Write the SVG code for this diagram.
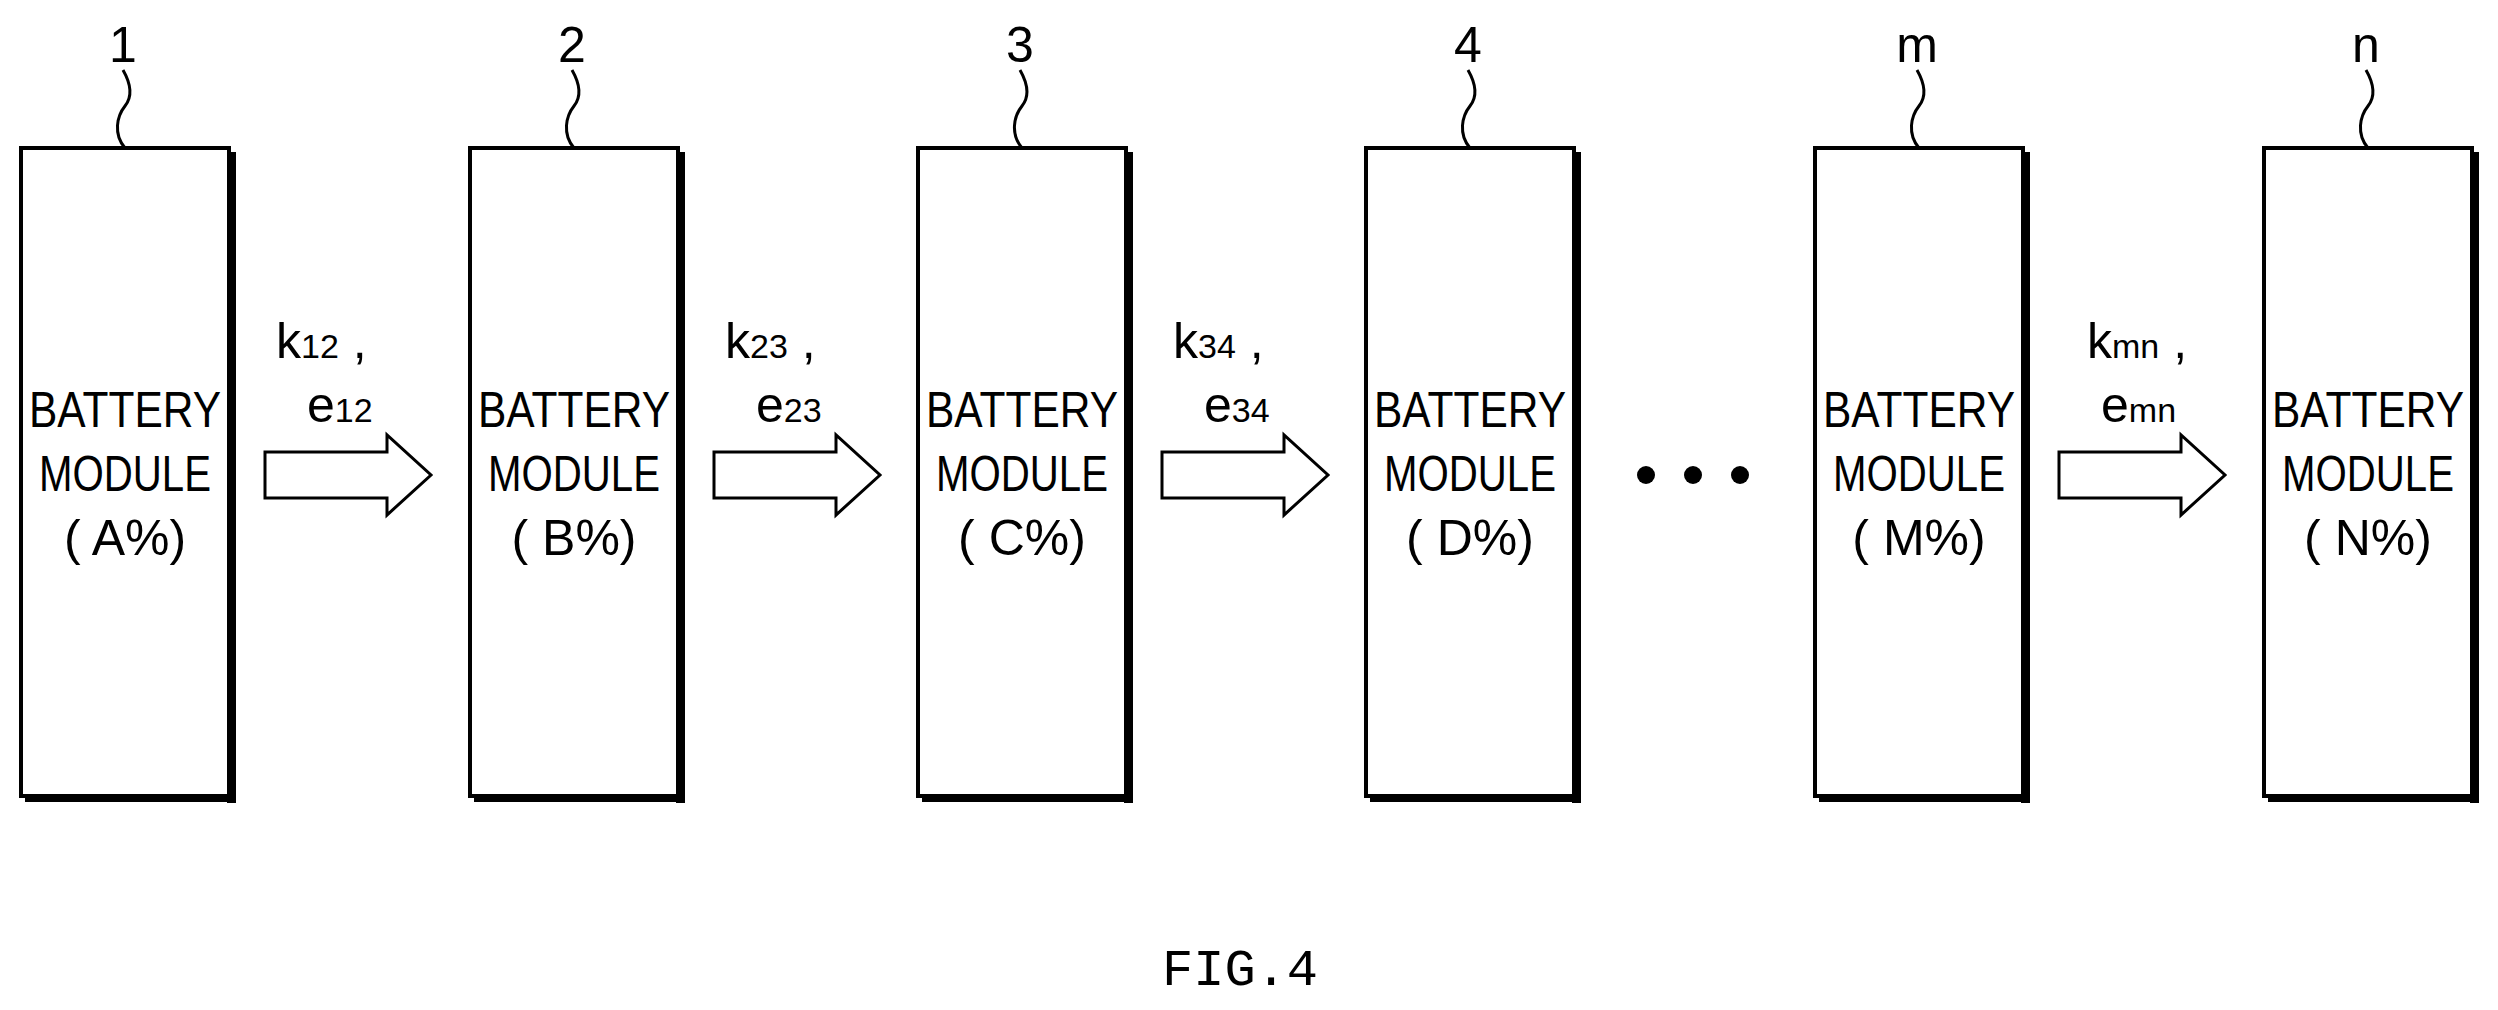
<svg xmlns="http://www.w3.org/2000/svg" width="2498" height="1010" viewBox="0 0 2498 1010">
<style>
.box{fill:#fff;stroke:#000;stroke-width:4}
.sh{fill:#000}
.t{font-family:"Liberation Sans",Arial,sans-serif;font-size:50px;text-anchor:middle;fill:#000}
.lead{fill:none;stroke:#000;stroke-width:3}
.arr{fill:#fff;stroke:#000;stroke-width:3}
.sub{font-size:34px}
</style>
<rect width="2498" height="1010" fill="#fff"/>
<defs>
<g id="mod">
<rect class="sh" x="206" y="4" width="9" height="651"/>
<rect class="sh" x="4" y="645" width="211" height="9"/>
<rect class="box" x="0" y="0" width="208" height="648"/>
<path class="lead" d="M104 0 C92 -14 96 -32 104 -42 S110 -64 102 -78"/>
</g>
<path id="ar" class="arr" d="M0 -23 H122 V-40 L166 0 L122 40 V23 H0 Z"/>
</defs>
<g id="node1"><use href="#mod" x="21" y="148"/><text class="t" x="123" y="62">1</text><text class="t" x="125" y="427" textLength="192" lengthAdjust="spacingAndGlyphs">BATTERY</text><text class="t" x="125" y="491" textLength="172" lengthAdjust="spacingAndGlyphs">MODULE</text><text class="t" x="125" y="555">( A%)</text></g>
<g id="node2"><use href="#mod" x="470" y="148"/><text class="t" x="572" y="62">2</text><text class="t" x="574" y="427" textLength="192" lengthAdjust="spacingAndGlyphs">BATTERY</text><text class="t" x="574" y="491" textLength="172" lengthAdjust="spacingAndGlyphs">MODULE</text><text class="t" x="574" y="555">( B%)</text></g>
<g id="node3"><use href="#mod" x="918" y="148"/><text class="t" x="1020" y="62">3</text><text class="t" x="1022" y="427" textLength="192" lengthAdjust="spacingAndGlyphs">BATTERY</text><text class="t" x="1022" y="491" textLength="172" lengthAdjust="spacingAndGlyphs">MODULE</text><text class="t" x="1022" y="555">( C%)</text></g>
<g id="node4"><use href="#mod" x="1366" y="148"/><text class="t" x="1468" y="62">4</text><text class="t" x="1470" y="427" textLength="192" lengthAdjust="spacingAndGlyphs">BATTERY</text><text class="t" x="1470" y="491" textLength="172" lengthAdjust="spacingAndGlyphs">MODULE</text><text class="t" x="1470" y="555">( D%)</text></g>
<g id="nodem"><use href="#mod" x="1815" y="148"/><text class="t" x="1917" y="62">m</text><text class="t" x="1919" y="427" textLength="192" lengthAdjust="spacingAndGlyphs">BATTERY</text><text class="t" x="1919" y="491" textLength="172" lengthAdjust="spacingAndGlyphs">MODULE</text><text class="t" x="1919" y="555">( M%)</text></g>
<g id="noden"><use href="#mod" x="2264" y="148"/><text class="t" x="2366" y="62">n</text><text class="t" x="2368" y="427" textLength="192" lengthAdjust="spacingAndGlyphs">BATTERY</text><text class="t" x="2368" y="491" textLength="172" lengthAdjust="spacingAndGlyphs">MODULE</text><text class="t" x="2368" y="555">( N%)</text></g>
<g id="dots"><circle cx="1646" cy="475" r="9"/><circle cx="1693" cy="475" r="9"/><circle cx="1740" cy="475" r="9"/></g>
<g id="connectors">
<use href="#ar" x="265" y="475"/>
<use href="#ar" x="714" y="475"/>
<use href="#ar" x="1162" y="475"/>
<use href="#ar" x="2059" y="475"/>
<text class="t" x="276" y="358" style="text-anchor:start">k<tspan class="sub">12</tspan>  ,</text>
<text class="t" x="307" y="422" style="text-anchor:start">e<tspan class="sub">12</tspan></text>
<text class="t" x="725" y="358" style="text-anchor:start">k<tspan class="sub">23</tspan>  ,</text>
<text class="t" x="756" y="422" style="text-anchor:start">e<tspan class="sub">23</tspan></text>
<text class="t" x="1173" y="358" style="text-anchor:start">k<tspan class="sub">34</tspan>  ,</text>
<text class="t" x="1204" y="422" style="text-anchor:start">e<tspan class="sub">34</tspan></text>
<text class="t" x="2087" y="358" style="text-anchor:start">k<tspan class="sub">mn</tspan>  ,</text>
<text class="t" x="2101" y="422" style="text-anchor:start">e<tspan class="sub">mn</tspan></text>
</g>
<text class="t" x="1240" y="985" style="font-size:52px;font-family:'Liberation Mono',monospace">FIG.4</text>
</svg>
